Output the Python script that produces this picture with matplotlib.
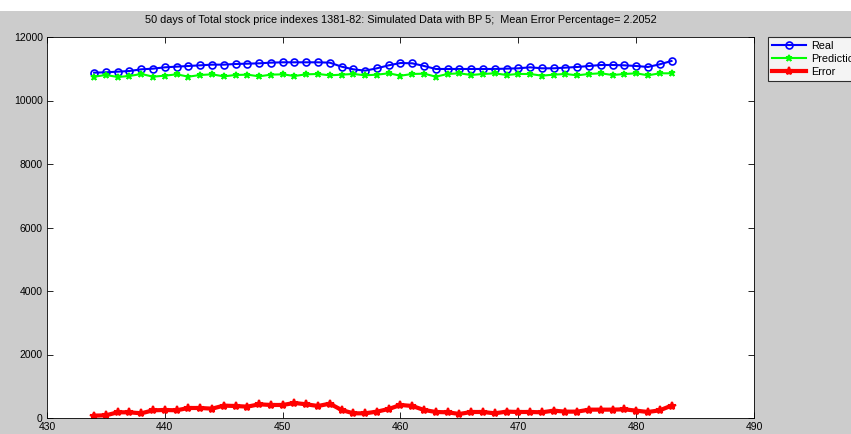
import numpy as np
import matplotlib
matplotlib.use('Agg')
from matplotlib import pyplot as plt
from matplotlib.patches import Rectangle

# 数据：第 434 到 483 天（50 天）
days = np.arange(434, 484)

real = [10877, 10888, 10908, 10929, 10982, 11003, 11045, 11066, 11087, 11108,
        11129, 11129, 11150, 11160, 11171, 11192, 11203, 11203, 11203, 11203,
        11192, 11066, 10982, 10940, 11014, 11108, 11181, 11171, 11087, 10993,
        10993, 10993, 10993, 10993, 10993, 11003, 11014, 11045, 11014, 11014,
        11035, 11056, 11087, 11118, 11118, 11108, 11087, 11056, 11140, 11245]

prediction = [10751, 10803, 10740, 10772, 10835, 10751, 10782, 10824, 10751, 10803,
              10824, 10761, 10803, 10814, 10761, 10814, 10824, 10772, 10824, 10835,
              10793, 10814, 10835, 10793, 10814, 10856, 10782, 10835, 10845, 10751,
              10835, 10856, 10803, 10835, 10856, 10803, 10835, 10835, 10782, 10814,
              10835, 10793, 10835, 10856, 10803, 10835, 10856, 10793, 10856, 10856]

error = [74, 84, 179, 179, 147, 242, 252, 242, 315, 315,
         294, 389, 378, 357, 431, 410, 410, 473, 431, 378,
         452, 252, 147, 147, 200, 284, 410, 378, 252, 189,
         179, 126, 189, 189, 147, 200, 189, 189, 179, 231,
         200, 200, 263, 263, 263, 273, 231, 189, 242, 389]

title = ('50 days of Total stock price indexes 1381-82: Simulated Data with BP 5;  '
         'Mean Error Percentage= 2.2052')

plt.rcParams['font.family'] = ['Liberation Sans', 'DejaVu Sans']

W, H = 851, 434
fig = plt.figure(figsize=(W / 100, H / 100), dpi=100)
fig.patch.set_facecolor('#cccccc')
# 顶部白条
fig.add_artist(Rectangle((0, 1 - 11 / H), 1, 11 / H, transform=fig.transFigure,
                         facecolor='white', edgecolor='none', zorder=-1))

ax = fig.add_axes([47 / W, (H - 418) / H, 707 / W, 381 / H])
ax.set_facecolor('white')

ax.plot(days, real, color='#0000ff', lw=1.5, marker='o', ms=5,
        mfc='none', mew=1.2, label='Real')
ax.plot(days, prediction, color='#00ff00', lw=1.5, marker='*', ms=5,
        mew=1.2, label='Prediction')
ax.plot(days, error, color='#ff0000', lw=3, marker='*', ms=6,
        mew=1.5, label='Error')

ax.set_xlim(430, 490)
ax.set_ylim(0, 12000)
ax.set_xticks(np.arange(430, 491, 10))
ax.set_yticks(np.arange(0, 12001, 2000))
ax.tick_params(direction='in', length=4, width=0.6, labelsize=7.5,
               top=True, right=True, pad=3)
for s in ax.spines.values():
    s.set_linewidth(0.6)

ax.set_title(title, fontsize=7.8, pad=10)

leg = fig.legend(loc='upper left', bbox_to_anchor=(768 / W, 1 - 37 / H),
                 fontsize=7.8, frameon=True, fancybox=False, edgecolor='black',
                 handlelength=3.2, handletextpad=0.4, borderpad=0.35,
                 labelspacing=0.3, borderaxespad=0)
leg.get_frame().set_linewidth(0.8)
leg.get_frame().set_facecolor('white')

fig.savefig('out.png', dpi=100, facecolor=fig.get_facecolor())
